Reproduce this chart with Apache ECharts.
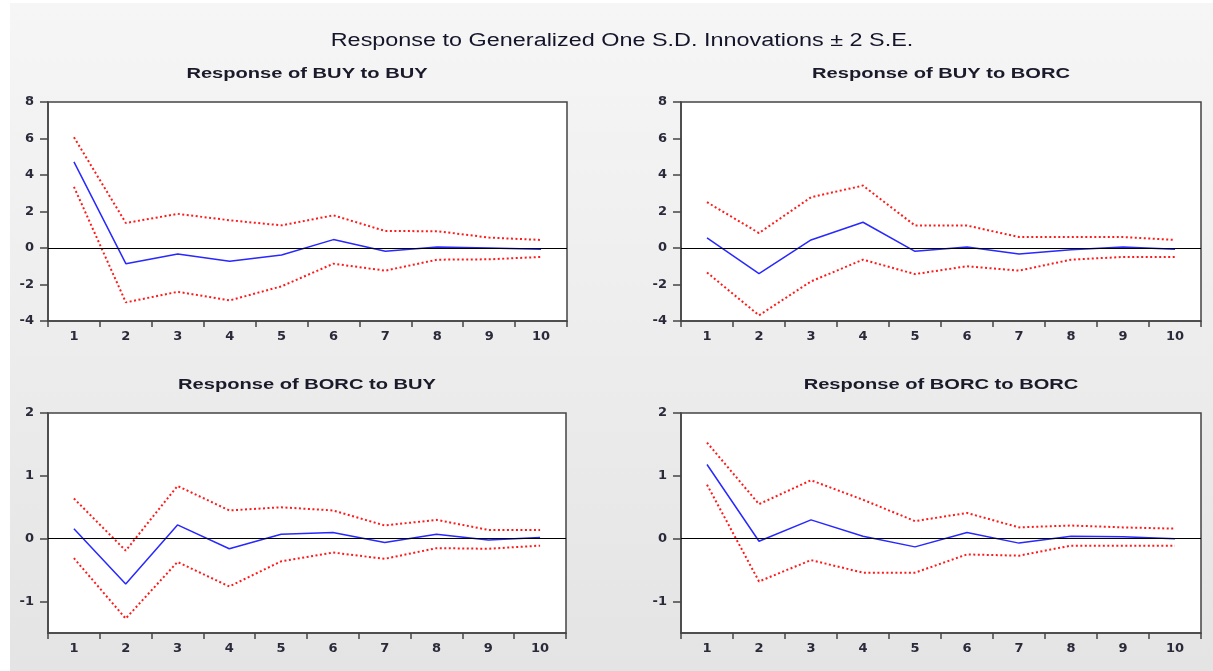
<!DOCTYPE html>
<html>
<head>
<meta charset="utf-8">
<script src="https://cdn.jsdelivr.net/npm/echarts@6/dist/echarts.min.js"></script>
<style>
html,body{margin:0;padding:0;background:#fff;}
#chart{width:1213px;height:671px;}
</style>
</head>
<body>
<div id="chart"></div>
<script>
// ---- Data ----
const periods = ['1','2','3','4','5','6','7','8','9','10'];

const mainTitle = 'Response to Generalized One S.D. Innovations \u00B1 2 S.E.';
const panelTitles = ['Response of BUY to BUY','Response of BUY to BORC','Response of BORC to BUY','Response of BORC to BORC'];

const buyToBuy      = [4.72, -0.86, -0.33, -0.73, -0.38, 0.46, -0.18, 0.05, 0.00, -0.07];
const buyToBuyUp    = [6.07, 1.37, 1.87, 1.52, 1.24, 1.79, 0.93, 0.92, 0.57, 0.44];
const buyToBuyLo    = [3.35, -2.98, -2.40, -2.87, -2.10, -0.86, -1.24, -0.64, -0.62, -0.49];

const buyToBorc     = [0.55, -1.41, 0.44, 1.41, -0.18, 0.05, -0.33, -0.09, 0.05, -0.07];
const buyToBorcUp   = [2.51, 0.82, 2.78, 3.42, 1.23, 1.23, 0.60, 0.60, 0.60, 0.44];
const buyToBorcLo   = [-1.34, -3.69, -1.83, -0.64, -1.43, -1.00, -1.24, -0.64, -0.49, -0.49];

const borcToBuy     = [0.16, -0.72, 0.22, -0.16, 0.07, 0.10, -0.06, 0.07, -0.02, 0.02];
const borcToBuyUp   = [0.64, -0.19, 0.84, 0.45, 0.50, 0.45, 0.21, 0.30, 0.14, 0.14];
const borcToBuyLo   = [-0.31, -1.27, -0.37, -0.76, -0.36, -0.22, -0.32, -0.15, -0.16, -0.11];

const borcToBorc    = [1.18, -0.04, 0.30, 0.04, -0.13, 0.10, -0.07, 0.04, 0.03, 0.00];
const borcToBorcUp  = [1.53, 0.55, 0.93, 0.62, 0.28, 0.41, 0.18, 0.21, 0.18, 0.16];
const borcToBorcLo  = [0.86, -0.68, -0.34, -0.54, -0.54, -0.25, -0.27, -0.11, -0.11, -0.11];

const topYTicks = [-4, -2, 0, 2, 4, 6, 8];
const bottomYTicks = [-1, 0, 1, 2];

// ---- Layout ----
const grids = [
  {left: 48,  top: 102, width: 519, height: 219},
  {left: 681, top: 102, width: 520, height: 219},
  {left: 48,  top: 413, width: 518, height: 220},
  {left: 681, top: 413, width: 520, height: 220}
];
const panels = [
  {resp: buyToBuy,   up: buyToBuyUp,   lo: buyToBuyLo,   ymin: -4,   ymax: 8, step: 2,   ticks: topYTicks},
  {resp: buyToBorc,  up: buyToBorcUp,  lo: buyToBorcLo,  ymin: -4,   ymax: 8, step: 2,   ticks: topYTicks},
  {resp: borcToBuy,  up: borcToBuyUp,  lo: borcToBuyLo,  ymin: -1.5, ymax: 2, step: 0.5, ticks: bottomYTicks},
  {resp: borcToBorc, up: borcToBorcUp, lo: borcToBorcLo, ymin: -1.5, ymax: 2, step: 0.5, ticks: bottomYTicks}
];
const titlePos = [[307, 74], [941, 74], [307, 385], [941, 385]];

const labelStyle = {fontFamily: 'DejaVu Sans', fontWeight: 'bold', fontSize: 13, color: '#2a2a3a'};
const axisColor = '#444';

const option = {
  backgroundColor: {type: 'linear', x: 0, y: 0, x2: 0, y2: 1,
    colorStops: [{offset: 0, color: '#f6f6f6'}, {offset: 1, color: '#e4e4e4'}]},
  animation: false,
  grid: grids.map(g => Object.assign({show: true, backgroundColor: '#ffffff', borderColor: axisColor, borderWidth: 1.5}, g)),
  xAxis: grids.map((g, i) => ({
    type: 'category', gridIndex: i, data: periods, boundaryGap: true, position: 'bottom',
    axisLine: {show: true, onZero: false, lineStyle: {color: axisColor, width: 1.5}},
    axisTick: {show: true, length: 6, lineStyle: {color: axisColor, width: 1.5}},
    axisLabel: Object.assign({margin: 9, interval: 0}, labelStyle),
    splitLine: {show: false}
  })),
  yAxis: panels.map((p, i) => ({
    type: 'value', gridIndex: i, min: p.ymin, max: p.ymax, interval: p.step,
    axisLine: {show: true, onZero: false, lineStyle: {color: axisColor, width: 1.5}},
    axisTick: {show: true, length: 8, customValues: p.ticks, lineStyle: {color: axisColor, width: 1.5}},
    axisLabel: Object.assign({margin: 14, customValues: p.ticks}, labelStyle),
    splitLine: {show: false}
  })),
  series: [],
  graphic: [
    {type: 'rect', shape: {x: 0, y: 0, width: 10, height: 671}, style: {fill: '#ffffff'}, silent: true},
    {type: 'rect', shape: {x: 0, y: 0, width: 1213, height: 3}, style: {fill: '#ffffff'}, silent: true},
    {type: 'text', x: 622, y: 41, scaleX: 1.3, style: {text: mainTitle, font: '18px "Liberation Sans"',
      fill: '#15152a', textAlign: 'center', textVerticalAlign: 'middle', align: 'center', verticalAlign: 'middle'}}
  ].concat(panelTitles.map((t, i) => ({
    type: 'text', x: titlePos[i][0], y: titlePos[i][1], scaleX: 1.34,
    style: {text: t, font: 'bold 15px "Liberation Sans"', fill: '#1a1a2a',
      textAlign: 'center', textVerticalAlign: 'middle', align: 'center', verticalAlign: 'middle'}
  })))
};

panels.forEach((p, i) => {
  option.series.push({
    type: 'line', xAxisIndex: i, yAxisIndex: i, data: p.up, symbol: 'none',
    lineStyle: {color: '#ff1a1a', width: 2, type: [2, 2.5]}, z: 3
  });
  option.series.push({
    type: 'line', xAxisIndex: i, yAxisIndex: i, data: p.lo, symbol: 'none',
    lineStyle: {color: '#ff1a1a', width: 2, type: [2, 2.5]}, z: 3
  });
  option.series.push({
    type: 'line', xAxisIndex: i, yAxisIndex: i, data: p.resp, symbol: 'none',
    lineStyle: {color: '#2828ff', width: 1.5}, z: 4,
    markLine: {silent: true, symbol: ['none', 'none'], label: {show: false},
      lineStyle: {color: '#000', width: 1.2, type: 'solid'}, data: [{yAxis: 0}]}
  });
});

const chart = echarts.init(document.getElementById('chart'), null, {renderer: 'canvas'});
chart.setOption(option);
</script>
</body>
</html>
